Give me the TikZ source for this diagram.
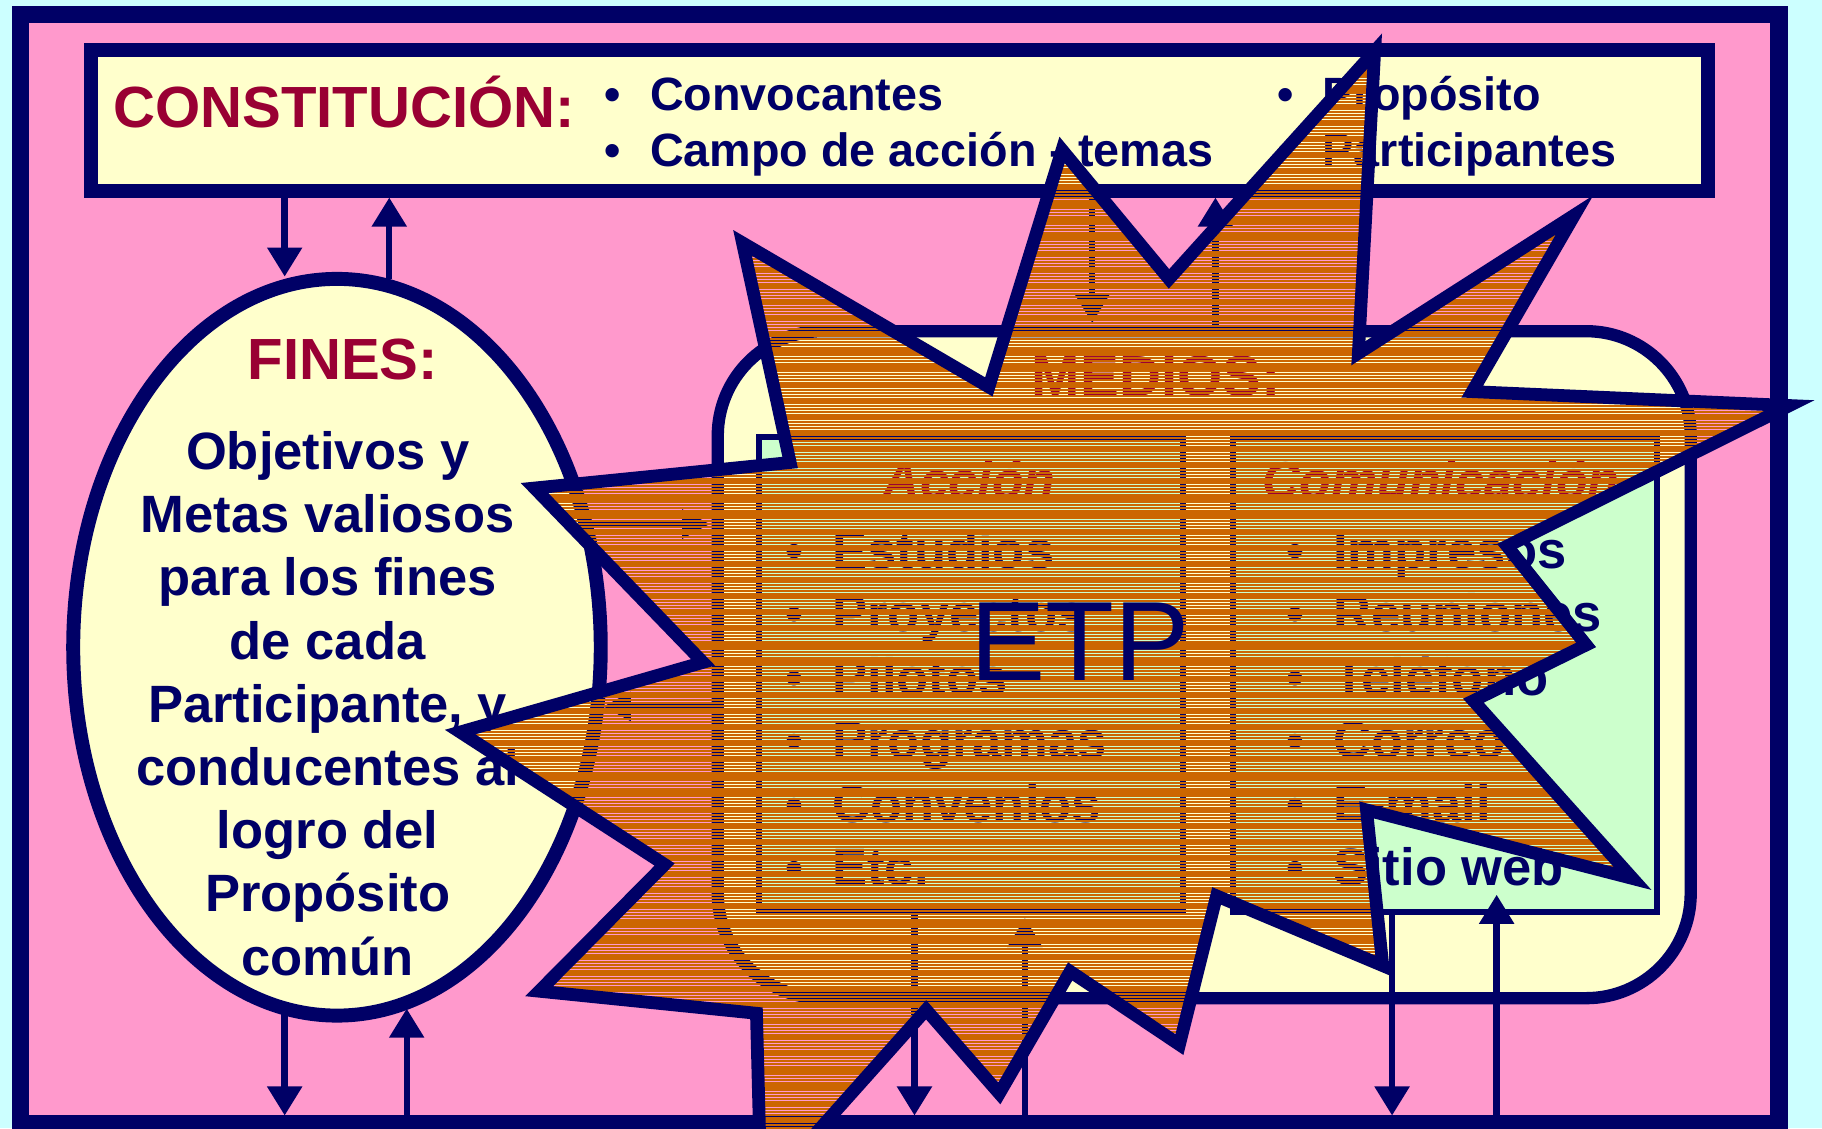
\documentclass[tikz,border=0pt]{standalone}
\usepackage{fontspec}
\setmainfont{Liberation Sans}
\usetikzlibrary{arrows.meta,shapes.geometric}
\definecolor{bgcyan}{RGB}{204,255,255}
\definecolor{pinkf}{RGB}{255,153,204}
\definecolor{navy}{RGB}{0,0,102}
\definecolor{lyellow}{RGB}{255,255,204}
\definecolor{dred}{RGB}{153,0,51}
\definecolor{lgreen}{RGB}{204,255,204}
\definecolor{orng}{RGB}{204,102,0}
\tikzset{
  shp/.style={draw=navy, inner sep=0pt, outer sep=0pt},
  arr/.style={navy, line width=2.75pt, -{Triangle[width=14.5pt,length=12.5pt]}},
  harr/.style={navy, line width=2.75pt, -{Triangle[width=12pt,length=12pt]}},
  ttl/.style={font=\bfseries\fontsize{25}{29}\selectfont, text=dred, inner sep=0pt, anchor=base},
  blt/.style={font=\bfseries\fontsize{20.1}{24}\selectfont, text=navy, inner sep=0pt, anchor=base west},
  bdot/.style={font=\bfseries\fontsize{20}{24}\selectfont, text=navy, inner sep=0pt, anchor=base},
  fin/.style={font=\bfseries\fontsize{22.6}{27}\selectfont, text=navy, inner sep=0pt, anchor=base},
  sub/.style={font=\bfseries\itshape\fontsize{22.3}{26}\selectfont, text=dred, inner sep=0pt, anchor=base},
  itm/.style={font=\bfseries\fontsize{22.6}{26}\selectfont, text=navy, inner sep=0pt, anchor=base west},
  idot/.style={font=\bfseries\fontsize{22}{26}\selectfont, text=navy, inner sep=0pt, anchor=base},
  etp/.style={font=\fontsize{48.5}{56}\selectfont, text=navy, inner sep=0pt, anchor=base west}
}
\begin{document}
\begin{tikzpicture}[x=0.5pt, y=-0.5pt]
\useasboundingbox (0,0) rectangle (1568,971);
\fill[bgcyan] (0,0) rectangle (1568,971);
% frame
\node[shp, fill=pinkf, line width=7.5pt, minimum width=756.75pt, minimum height=477.25pt] (frame) at (774.25,489.75) {};
% constitution box
\node[shp, fill=lyellow, line width=6pt, minimum width=696pt, minimum height=60.5pt] (cons) at (774,103.5) {};
% fines ellipse
\node[shp, ellipse, fill=lyellow, line width=6pt, minimum width=227pt, minimum height=317pt] (fines) at (290,557) {};
% medios box
\node[shp, fill=lyellow, line width=5.3pt, rounded corners=45pt, minimum width=418.65pt, minimum height=287pt] (medios) at (1036.35,572) {};
\node[shp, fill=lgreen, line width=2.7pt, minimum width=182.5pt, minimum height=204.5pt] (accion) at (835.5,580.5) {};
\node[shp, fill=lgreen, line width=2.7pt, minimum width=182.5pt, minimum height=204.5pt] (comu) at (1243.5,580.5) {};

% connector end points
\coordinate (a1) at (245,170);  \coordinate (a2) at (245,238);
\coordinate (b1) at (335,240);  \coordinate (b2) at (335,170);
\coordinate (c1) at (245,868);  \coordinate (c2) at (245,960);
\coordinate (d1) at (350,960);  \coordinate (d2) at (350,868);
\coordinate (e1) at (940,170);  \coordinate (e2) at (940,278);
\coordinate (f1) at (1046,285); \coordinate (f2) at (1046,170);
\coordinate (g1) at (504,451);  \coordinate (g2) at (611,451);
\coordinate (h1) at (617,608);  \coordinate (h2) at (519,608);
\coordinate (i1) at (787,785);  \coordinate (i2) at (787,960);
\coordinate (j1) at (882,960);  \coordinate (j2) at (882,790);
\coordinate (k1) at (1198,785); \coordinate (k2) at (1198,960);
\coordinate (l1) at (1288,960); \coordinate (l2) at (1288,770);
\draw[arr] (a1) -- (a2);
\draw[arr] (b1) -- (b2);
\draw[arr] (c1) -- (c2);
\draw[arr] (d1) -- (d2);
\draw[arr] (e1) -- (e2);
\draw[arr] (f1) -- (f2);
\draw[harr] (g1) -- (g2);
\draw[harr] (h1) -- (h2);
\draw[arr] (i1) -- (i2);
\draw[arr] (j1) -- (j2);
\draw[arr] (k1) -- (k2);
\draw[arr] (l1) -- (l2);

% constitution texts
\node[ttl, anchor=base west] (constt) at (97,110) {CONSTITUCIÓN:};
\node[bdot] (cb1) at (527,95) {•};
\node[blt] (ct1) at (559,95) {Convocantes};
\node[bdot] (cb2) at (527,143) {•};
\node[blt] (ct2) at (559,143) {Campo de acción - temas};
\node[bdot] (cb3) at (1106,95) {•};
\node[blt] (ct3) at (1138,95) {Propósito};
\node[bdot] (cb4) at (1106,143) {•};
\node[blt] (ct4) at (1138,143) {Participantes};

% fines texts
\node[ttl] (finest) at (295,327) {FINES:};
\node[fin] (fl1) at (282,404) {Objetivos y};
\node[fin] (fl2) at (282,458.4) {Metas valiosos};
\node[fin] (fl3) at (282,512.8) {para los fines};
\node[fin] (fl4) at (282,567.2) {de cada};
\node[fin] (fl5) at (282,621.6) {Participante, y};
\node[fin] (fl6) at (282,676) {conducentes al};
\node[fin] (fl7) at (282,730.4) {logro del};
\node[fin] (fl8) at (282,784.8) {Propósito};
\node[fin] (fl9) at (282,839.2) {común};

% medios texts
\node[ttl] (mediost) at (995,341) {MEDIOS:};
\node[sub] (acct) at (834,429) {Acción};
\node[sub] (comt) at (1240,429) {Comunicación};
\node[idot] (ab1) at (684,489) {•};   \node[itm] (at1) at (716,489) {Estudios};
\node[idot] (ab2) at (684,543.6) {•}; \node[itm] (at2) at (716,543.6) {Proyectos};
\node[idot] (ab3) at (684,598.2) {•}; \node[itm] (at3) at (716,598.2) {Pilotos};
\node[idot] (ab4) at (684,652.8) {•}; \node[itm] (at4) at (716,652.8) {Programas};
\node[idot] (ab5) at (684,707.4) {•}; \node[itm] (at5) at (716,707.4) {Convenios};
\node[idot] (ab6) at (684,762) {•};   \node[itm] (at6) at (716,762) {Etc.};
\node[idot] (rb1) at (1115,489) {•};   \node[itm] (rt1) at (1147,489) {Impresos};
\node[idot] (rb2) at (1115,543.6) {•}; \node[itm] (rt2) at (1147,543.6) {Reuniones};
\node[idot] (rb3) at (1115,598.2) {•}; \node[itm] (rt3) at (1147,598.2) {Teléfono};
\node[idot] (rb4) at (1115,652.8) {•}; \node[itm] (rt4) at (1147,652.8) {Correo};
\node[idot] (rb5) at (1115,707.4) {•}; \node[itm] (rt5) at (1147,707.4) {E-mail};
\node[idot] (rb6) at (1115,762) {•};   \node[itm] (rt6) at (1147,762) {Sitio web};

% star (ETP)
\path[draw=navy, line width=5.5pt, line join=miter, miter limit=20,
  path picture={
    \foreach \k in {0,...,372} {
      \draw[orng, line width=1.05pt] (370,{22+2.75*\k}) -- (1580,{22+2.75*\k});
    }
  }]
  (1183,44) -- (1169,304) -- (1355,185) -- (1267,337) -- (1540,349) --
  (1297,470) -- (1365,555) -- (1268,603) -- (1405,756) -- (1176,697) --
  (1190,831) -- (1047,771) -- (1015,899) -- (921,836) -- (860,941) --
  (797,869) -- (655,1028) -- (651,872) -- (464,853) -- (572,744) --
  (396,630) -- (605,570) -- (460,420) -- (680,398) -- (639,209) --
  (851,333) -- (914,129) -- (1006,240) -- cycle;
\node[etp] (etpt) at (835,586) {ETP};
\end{tikzpicture}
\end{document}
